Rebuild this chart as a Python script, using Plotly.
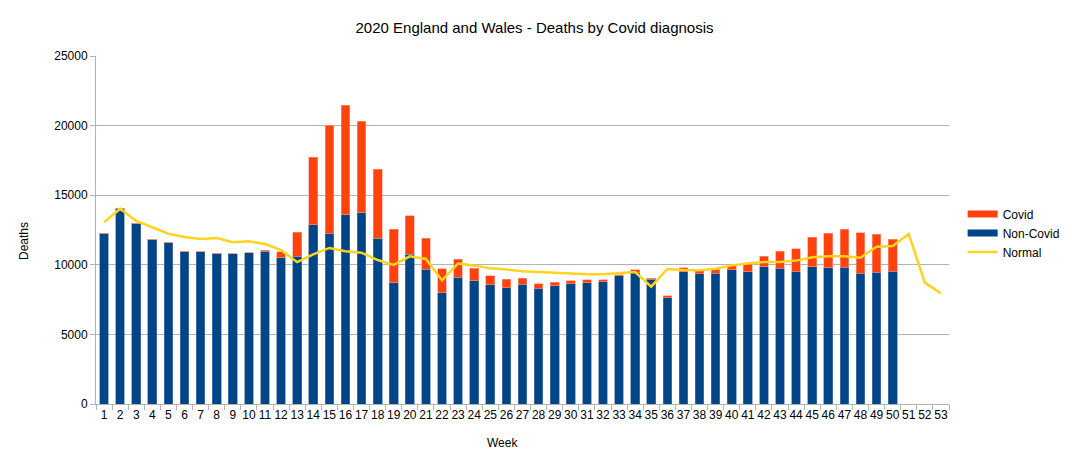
import plotly.graph_objects as go

weeks = [str(i) for i in range(1, 54)]

non_covid = [12260, 14060, 13000, 11850, 11610, 10990, 10940, 10820, 10800, 10870,
             10990, 10510, 10610, 12880, 12280, 13580, 13740, 11900, 8720, 10750,
             9670, 8000, 9100, 8840, 8550, 8360, 8600, 8310, 8500, 8640,
             8720, 8790, 9220, 9430, 8960, 7640, 9510, 9340, 9410, 9630,
             9510, 9870, 9750, 9510, 9870, 9800, 9820, 9410, 9460, 9530]

total = [12260, 14060, 13000, 11850, 11610, 10990, 10940, 10820, 10800, 10870,
         11040, 10920, 12330, 17720, 20040, 21460, 20310, 16880, 12570, 13510,
         11900, 9700, 10390, 9770, 9220, 8950, 9030, 8640, 8740, 8860,
         8910, 8930, 9290, 9630, 9050, 7760, 9790, 9630, 9670, 9940,
         10100, 10610, 10990, 11140, 11970, 12260, 12570, 12310, 12210, 11850]

covid = [max(t - n, 0) for t, n in zip(total, non_covid)]

normal = [13050, 14030, 13150, 12690, 12230, 12000, 11850, 11930, 11620, 11690,
          11490, 11060, 10190, 10750, 11210, 10970, 10870, 10340, 9990, 10610,
          10420, 8880, 10100, 9940, 9750, 9660, 9530, 9480, 9410, 9340,
          9320, 9320, 9390, 9480, 8430, 9700, 9630, 9600, 9720, 9960,
          10100, 10200, 10200, 10300, 10540, 10610, 10610, 10510, 11300, 11350,
          12210, 8720, 7950]

font = "Liberation Sans, Arial, sans-serif"
W, H = 1069, 468
L, R, T, B = 96, 120, 56, 64
pw, ph = W - L - R, H - T - B
C_COVID, C_NON, C_NORM = "#ff420e", "#004586", "#ffd320"

fig = go.Figure()
fig.add_trace(go.Bar(x=weeks[:50], y=non_covid, name="Non-Covid", showlegend=False,
                     marker=dict(color=C_NON, line=dict(color="#5a7fae", width=0.6))))
fig.add_trace(go.Bar(x=weeks[:50], y=covid, name="Covid", showlegend=False,
                     marker=dict(color=C_COVID, line=dict(color="#ff9a80", width=0.6))))
fig.add_trace(go.Scatter(x=weeks, y=normal, name="Normal", mode="lines", legendrank=3,
                         line=dict(color=C_NORM, width=2.5)))
# legend proxies (wide rectangle keys as in the original)
fig.add_trace(go.Scatter(x=[None], y=[None], name="Covid", mode="lines", legendrank=1,
                         line=dict(color=C_COVID, width=7)))
fig.add_trace(go.Scatter(x=[None], y=[None], name="Non-Covid", mode="lines", legendrank=2,
                         line=dict(color=C_NON, width=7)))

fig.update_layout(
    width=W, height=H,
    barmode="stack", bargap=0.46,
    paper_bgcolor="white", plot_bgcolor="white",
    margin=dict(l=L, r=R, t=T, b=B, autoexpand=False),
    font=dict(family=font, size=12, color="#000000"),
    title=dict(text="2020 England and Wales - Deaths by Covid diagnosis",
               x=0.5, xref="container", xanchor="center",
               y=1 - 28 / H, yref="container", yanchor="middle",
               font=dict(size=15, family=font)),
    legend=dict(x=1.016, y=(404 - 233) / ph,
                xanchor="left", yanchor="middle",
                traceorder="normal", font=dict(size=12, family=font),
                itemwidth=30, tracegroupgap=0),
    showlegend=True,
    annotations=[
        dict(text="Deaths", textangle=-90, xref="paper", yref="paper",
             x=(24 - L) / pw, y=(404 - 241) / ph, xanchor="center", yanchor="middle",
             showarrow=False, font=dict(size=12, family=font)),
        dict(text="Week", xref="paper", yref="paper",
             x=(502 - L) / pw, y=(404 - 443) / ph, xanchor="center", yanchor="middle",
             showarrow=False, font=dict(size=12, family=font)),
    ],
)
fig.update_xaxes(type="category", categoryorder="array", categoryarray=weeks,
                 range=[-0.5, len(weeks) - 0.5],
                 tickson="boundaries", ticks="outside", ticklen=5, tickcolor="#b3b3b3",
                 showline=True, linecolor="#b3b3b3", linewidth=1, mirror=False,
                 showgrid=False, tickangle=0, automargin=False,
                 tickfont=dict(size=12))
fig.update_yaxes(range=[0, 25000], dtick=5000, tickformat="d",
                 ticks="outside", ticklen=5, tickcolor="#b3b3b3",
                 showline=True, linecolor="#b3b3b3", linewidth=1,
                 showgrid=True, gridcolor="#b3b3b3", gridwidth=1, zeroline=False,
                 automargin=False, tickfont=dict(size=12))

fig.write_html("out.html", config={"displayModeBar": False},
               post_script="document.body.style.margin='0';document.body.style.padding='0';")
